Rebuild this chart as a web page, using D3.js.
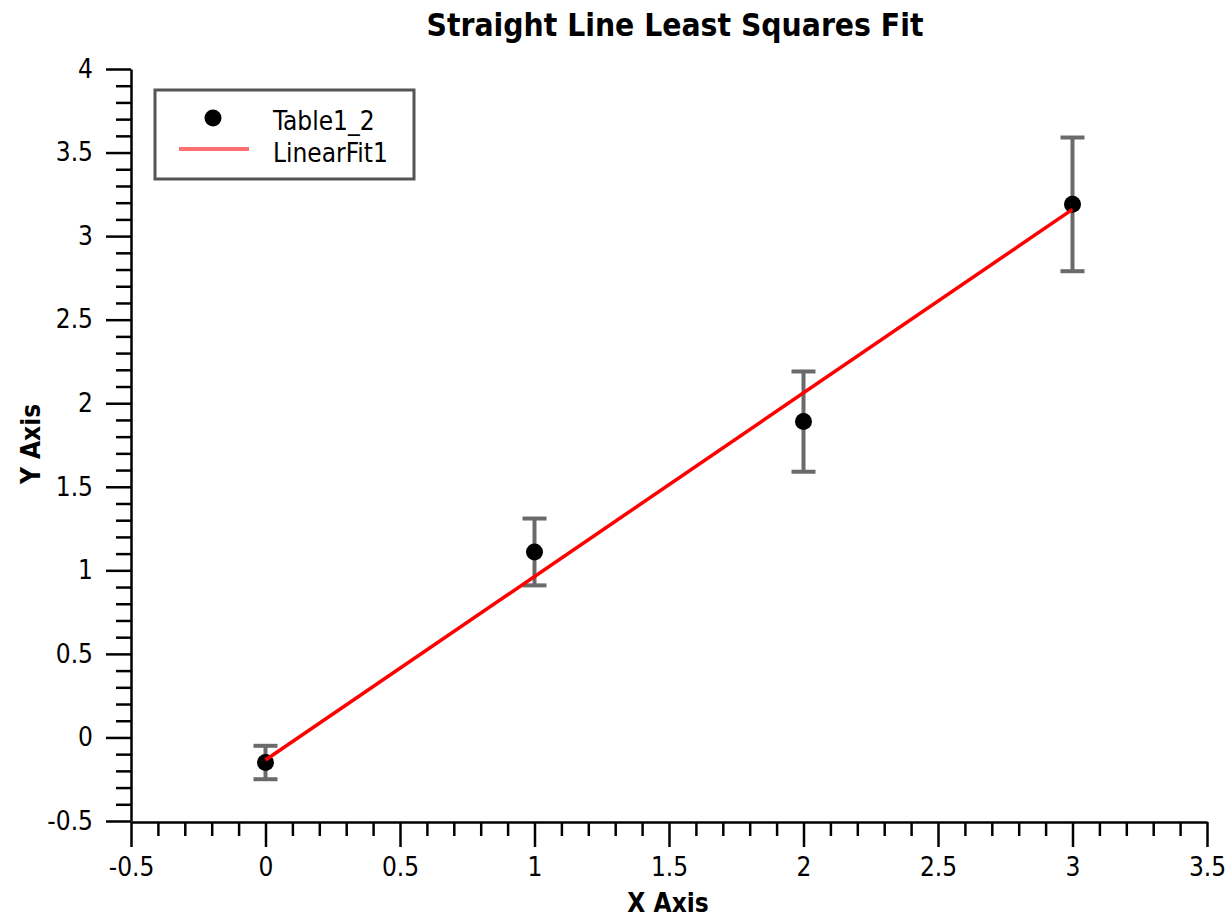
<!DOCTYPE html>
<html>
<head>
<meta charset="utf-8">
<script src="https://cdn.jsdelivr.net/npm/d3@7"></script>
<style>
  html, body { margin: 0; padding: 0; background: #fff; }
  svg { display: block; }
</style>
</head>
<body>
<svg id="chart" width="1232" height="920"></svg>
<script>
// ---- data ----
const xValues = [0, 1, 2, 3];
const yValues = [-0.15, 1.11, 1.89, 3.19];
const yErrors = [0.1, 0.2, 0.3, 0.4];
const fitX = [0, 3];
const fitY = [-0.135, 3.16];
const xTicks = [-0.5, 0, 0.5, 1, 1.5, 2, 2.5, 3, 3.5];
const yTicks = [-0.5, 0, 0.5, 1, 1.5, 2, 2.5, 3, 3.5, 4];
const seriesNames = ["Table1_2", "LinearFit1"];
const titleText = "Straight Line Least Squares Fit";
const xTitle = "X Axis";
const yTitle = "Y Axis";

const svg = d3.select("#chart");
const FONT = '"DejaVu Sans Condensed", "DejaVu Sans", sans-serif';

const x = d3.scaleLinear().domain([-0.5, 3.5]).range([131, 1207]);
const y = d3.scaleLinear().domain([-0.5, 4]).range([821, 69]);

// minor tick values (0.1 step) excluding majors
function minors(lo, hi) {
  const out = [];
  for (let i = Math.round(lo * 10); i <= Math.round(hi * 10); i++) {
    if (i % 5 !== 0) out.push(i / 10);
  }
  return out;
}
const fmt = d => String(d);

// X axis
const gx = svg.append("g").attr("transform", `translate(0,${y(-0.5) + 1})`);
gx.call(d3.axisBottom(x).tickValues(minors(-0.5, 3.5)).tickSize(14).tickSizeOuter(0).tickFormat(""));
gx.call(g => g.select(".domain").remove());
const gx2 = svg.append("g").attr("transform", `translate(0,${y(-0.5) + 1})`);
gx2.call(d3.axisBottom(x).tickValues(xTicks).tickSize(25).tickSizeOuter(0).tickPadding(11).tickFormat(fmt));

// Y axis
const gy = svg.append("g").attr("transform", `translate(${x(-0.5)},0)`);
gy.call(d3.axisLeft(y).tickValues(minors(-0.5, 4)).tickSize(15).tickSizeOuter(0).tickFormat(""));
gy.call(g => g.select(".domain").remove());
const gy2 = svg.append("g").attr("transform", `translate(${x(-0.5)},0)`);
gy2.call(d3.axisLeft(y).tickValues(yTicks).tickSize(25).tickSizeOuter(0).tickPadding(13).tickFormat(fmt));

svg.selectAll(".tick line").attr("stroke", "#000").attr("stroke-width", 2.5);
svg.selectAll(".domain").attr("stroke", "#000").attr("stroke-width", 2.5);
svg.selectAll(".tick text").attr("font-family", FONT).attr("font-size", 26).attr("fill", "#000");

// Title and axis titles
svg.append("text").attr("x", 675).attr("y", 36).attr("text-anchor", "middle")
  .attr("font-family", FONT).attr("font-weight", "bold").attr("font-size", 31.5).text(titleText);
svg.append("text").attr("x", 668).attr("y", 912).attr("text-anchor", "middle")
  .attr("font-family", FONT).attr("font-weight", "bold").attr("font-size", 26).text(xTitle);
svg.append("text").attr("transform", "translate(40,444) rotate(-90)").attr("text-anchor", "middle")
  .attr("font-family", FONT).attr("font-weight", "bold").attr("font-size", 26).text(yTitle);

// Error bars
const data = xValues.map((v, i) => ({ x: v, y: yValues[i], e: yErrors[i] }));
const eb = svg.append("g").attr("stroke", "#6a6a6a").attr("stroke-width", 4);
eb.selectAll("line.v").data(data).join("line")
  .attr("x1", d => x(d.x)).attr("x2", d => x(d.x))
  .attr("y1", d => y(d.y - d.e)).attr("y2", d => y(d.y + d.e));
eb.selectAll("line.t").data(data).join("line")
  .attr("x1", d => x(d.x) - 12).attr("x2", d => x(d.x) + 12)
  .attr("y1", d => y(d.y + d.e)).attr("y2", d => y(d.y + d.e));
eb.selectAll("line.b").data(data).join("line")
  .attr("x1", d => x(d.x) - 12).attr("x2", d => x(d.x) + 12)
  .attr("y1", d => y(d.y - d.e)).attr("y2", d => y(d.y - d.e));

// Points
svg.append("g").selectAll("circle").data(data).join("circle")
  .attr("cx", d => x(d.x)).attr("cy", d => y(d.y)).attr("r", 8.5).attr("fill", "#000");

// Fit line
const fitData = fitX.map((v, i) => [v, fitY[i]]);
svg.append("path").datum(fitData)
  .attr("d", d3.line().x(d => x(d[0])).y(d => y(d[1])))
  .attr("stroke", "#ff0000").attr("stroke-width", 3.5).attr("fill", "none");

// Legend
const lg = svg.append("g");
lg.append("rect").attr("x", 155).attr("y", 90).attr("width", 259).attr("height", 89)
  .attr("fill", "#fff").attr("stroke", "#555").attr("stroke-width", 3);
lg.append("circle").attr("cx", 213).attr("cy", 118).attr("r", 8.5).attr("fill", "#000");
lg.append("line").attr("x1", 179).attr("x2", 249).attr("y1", 149).attr("y2", 149)
  .attr("stroke", "#ff7070").attr("stroke-width", 4);
lg.selectAll("text").data(seriesNames).join("text")
  .attr("x", 273).attr("y", (d, i) => 130 + i * 32)
  .attr("font-family", FONT).attr("font-size", 26).text(d => d);
</script>
</body>
</html>
